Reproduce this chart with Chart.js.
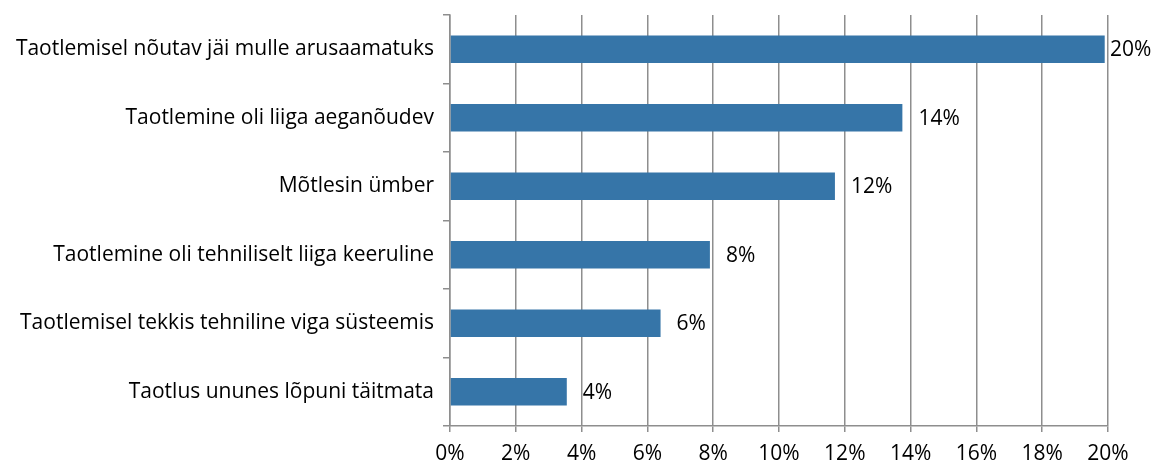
<!DOCTYPE html>
<html>
<head>
<meta charset="utf-8">
<script src="https://cdn.jsdelivr.net/npm/chart.js@4/dist/chart.umd.min.js"></script>
<style>
  html, body { margin: 0; padding: 0; background: #fff; }
  #wrap { width: 1158px; height: 465px; }
</style>
</head>
<body>
<div id="wrap"><canvas id="chart" width="1158" height="465"></canvas></div>
<script>
// reasons given for dropping the application, share of respondents (%)
const reasons = [
  "Taotlemisel nõutav jäi mulle arusaamatuks",
  "Taotlemine oli liiga aeganõudev",
  "Mõtlesin ümber",
  "Taotlemine oli tehniliselt liiga keeruline",
  "Taotlemisel tekkis tehniline viga süsteemis",
  "Taotlus ununes lõpuni täitmata"
];
const shares = [19.9, 13.75, 11.7, 7.9, 6.4, 3.55];
const xTicks = [0, 2, 4, 6, 8, 10, 12, 14, 16, 18, 20];

const FONT = "'Open Sans', sans-serif";
const FONT_SIZE = 21;
const GRID = "#8e8e8e";

// value labels to the right of each bar
const barLabels = {
  id: "barLabels",
  afterDatasetsDraw(chart) {
    const { ctx, chartArea } = chart;
    const meta = chart.getDatasetMeta(0);
    ctx.save();
    ctx.font = FONT_SIZE + "px " + FONT;
    ctx.fillStyle = "#000";
    ctx.textAlign = "left";
    ctx.textBaseline = "middle";
    meta.data.forEach((bar, i) => {
      const x = Math.min(bar.x + 16, chartArea.right + 2);
      ctx.fillText(Math.round(shares[i]) + "%", x, bar.y + 1);
    });
    ctx.restore();
  }
};

new Chart(document.getElementById("chart"), {
  type: "bar",
  data: {
    labels: reasons,
    datasets: [{
      data: shares,
      backgroundColor: "#3675a8",
      borderWidth: 0,
      categoryPercentage: 0.8,
      barPercentage: 0.5
    }]
  },
  options: {
    indexAxis: "y",
    responsive: false,
    animation: false,
    layout: { padding: { top: 15, right: 50, bottom: 0, left: 0 } },
    plugins: { legend: { display: false }, tooltip: { enabled: false } },
    scales: {
      x: {
        min: 0,
        max: 20,
        afterBuildTicks: s => { s.ticks = xTicks.map(v => ({ value: v })); },
        afterFit: s => { s.height = 39; },
        ticks: {
          color: "#000",
          font: { family: FONT, size: FONT_SIZE },
          padding: 9,
          callback: v => v + "%"
        },
        grid: { color: GRID, lineWidth: 1.5, tickLength: 6, tickColor: GRID },
        border: { color: GRID, width: 1.5 }
      },
      y: {
        afterFit: s => {
          s.width = 450;
          s.paddingTop = 0;
          s.paddingBottom = 0;
        },
        ticks: {
          color: "#000",
          font: { family: FONT, size: FONT_SIZE },
          padding: 9
        },
        grid: { drawOnChartArea: false, tickLength: 7, color: GRID, lineWidth: 1.5 },
        border: { color: GRID, width: 1.5 }
      }
    }
  },
  plugins: [barLabels]
});
</script>
</body>
</html>
